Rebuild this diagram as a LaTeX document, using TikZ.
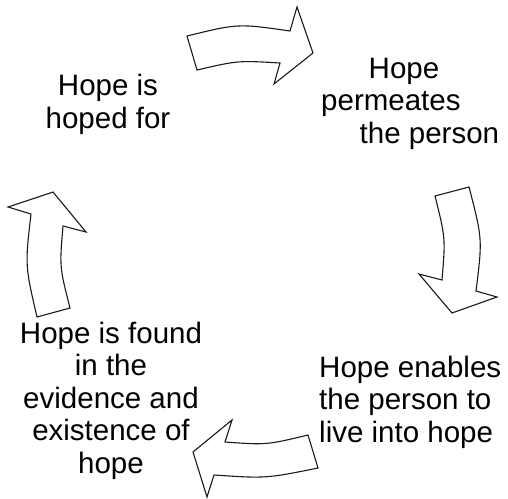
\documentclass[tikz,border=0pt]{standalone}
\usepackage{fontspec}
\setmainfont{Liberation Sans}
\usepackage{xcolor}
\definecolor{Outline}{HTML}{1A1A1A}

\begin{document}
\begin{tikzpicture}[x=1pt,y=-1pt,every node/.style={inner sep=0pt,font=\fontsize{29.5}{32.5}\selectfont},blockarrow/.style={draw=Outline,fill=white,line width=1.1pt}]
\useasboundingbox (0,0) rectangle (508,498);
% the four stages
\node[align=center,anchor=base] (hoped) at (108,128) {Hope is\\hoped for};
\node[align=left,anchor=base west] (permeates) at (321,143) {\hspace{47.5pt}Hope\\permeates\\\hspace{38.5pt}the person};
\node[align=left,anchor=base west] (enables) at (319,442) {Hope enables\\the person to\\live into hope};
\node[align=center,anchor=base] (found) at (111,473) {Hope is found\\in the\\evidence and\\existence of\\hope};
% curved block arrows, clockwise
\draw[blockarrow] (187,36) .. controls (238,23.5) .. (290,31) -- (297,7) -- (313,53) -- (274,84) -- (280,63) .. controls (238,60.5) .. (197,70) -- cycle;
\draw[blockarrow] (435,196) -- (469,187) .. controls (482.5,239) .. (476,291) -- (497,297) -- (452,313) -- (419,274) -- (442,280) .. controls (445.5,238) .. (435,196) -- cycle;
\draw[blockarrow] (308,435) -- (318,468) .. controls (266,478.5) .. (214,475) -- (207,497) -- (193,452) -- (232,420) -- (225,442) .. controls (266.5,445) .. (308,435) -- cycle;
\draw[blockarrow] (37,317) -- (70,308) .. controls (59.5,267) .. (63,226) -- (86,232) -- (53,192) -- (8,207) -- (31,214) .. controls (25,265.5) .. (37,317) -- cycle;
\end{tikzpicture}
\end{document}
